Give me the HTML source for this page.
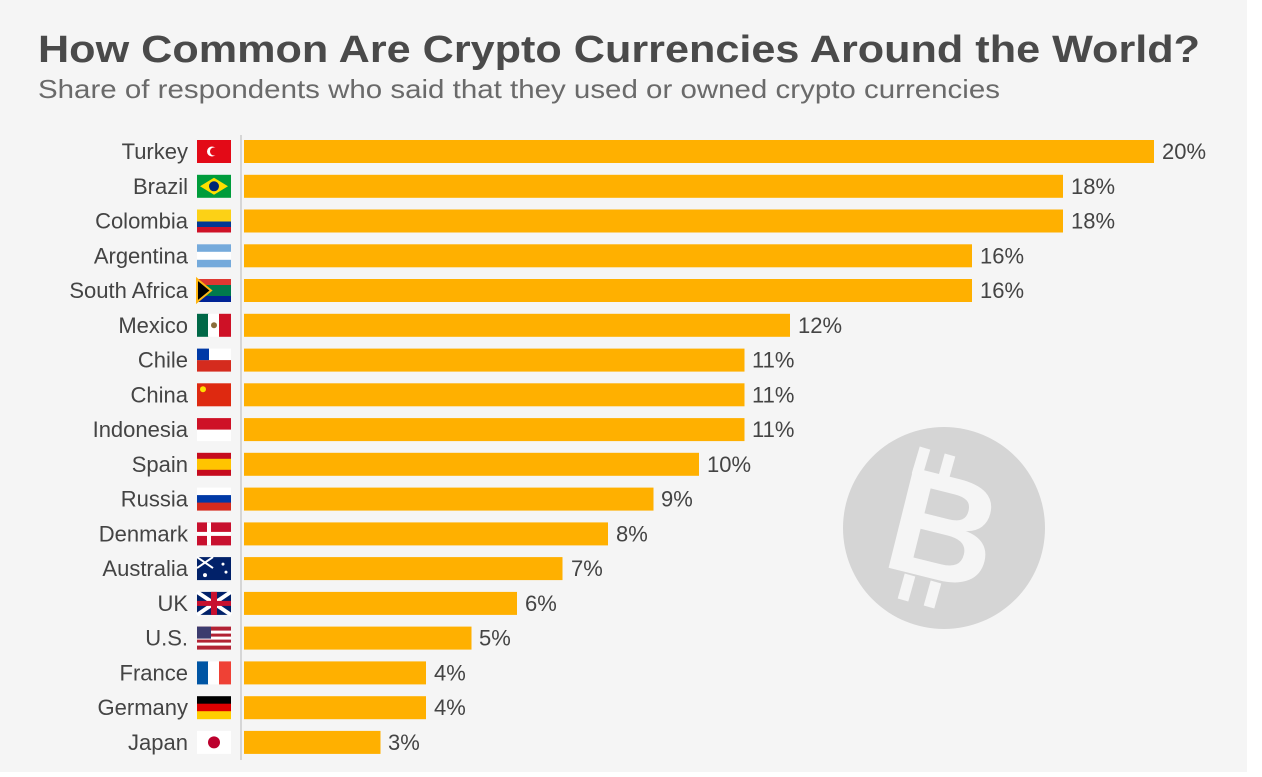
<!DOCTYPE html><html><head><style>body{margin:0;background:#fff}</style></head><body>
<svg width="1262" height="772" xmlns="http://www.w3.org/2000/svg" font-family="Liberation Sans, sans-serif">
<rect x="0" y="0" width="1247" height="772" fill="#f5f5f5"/>
<text x="38" y="62" font-size="38" font-weight="bold" fill="#4a4a4a" textLength="1162" lengthAdjust="spacingAndGlyphs">How Common Are Crypto Currencies Around the World?</text>
<text x="38" y="98" font-size="26" fill="#6a6a6a" textLength="962" lengthAdjust="spacingAndGlyphs">Share of respondents who said that they used or owned crypto currencies</text>
<line x1="241" y1="135" x2="241" y2="760" stroke="#ccc" stroke-width="1.5"/>
<circle cx="944" cy="528" r="101" fill="#d5d5d5"/>
<text x="944" y="580" font-size="150" font-weight="bold" fill="#f5f5f5" text-anchor="middle" transform="rotate(14 944 528)">B</text>
<g stroke="#f5f5f5" stroke-width="11"><line x1="925" y1="448" x2="917" y2="475"/><line x1="950" y1="455" x2="943" y2="480"/><line x1="910" y1="575" x2="903" y2="600"/><line x1="936" y1="582" x2="929" y2="607"/></g>
<g font-size="22" fill="#444">
<g transform="translate(0,140)"><text x="188" y="19" text-anchor="end">Turkey</text><rect x="197" y="0" width="34" height="23" fill="#e30a17"/><circle cx="212" cy="11.5" r="5" fill="#fff"/><circle cx="214" cy="11.5" r="4" fill="#e30a17"/><rect x="244" y="0" width="910" height="23" fill="#ffb000"/><text x="1162" y="19">20%</text></g>
<g transform="translate(0,174.8)"><text x="188" y="19" text-anchor="end">Brazil</text><rect x="197" y="0" width="34" height="23" fill="#009c3b"/><polygon points="200,11.5 214,3 228,11.5 214,20" fill="#ffdf00"/><circle cx="214" cy="11.5" r="5" fill="#002776"/><rect x="244" y="0" width="819" height="23" fill="#ffb000"/><text x="1071" y="19">18%</text></g>
<g transform="translate(0,209.5)"><text x="188" y="19" text-anchor="end">Colombia</text><rect x="197" y="0" width="34" height="12" fill="#fcd116"/><rect x="197" y="12" width="34" height="6" fill="#003893"/><rect x="197" y="17.5" width="34" height="5.5" fill="#ce1126"/><rect x="244" y="0" width="819" height="23" fill="#ffb000"/><text x="1071" y="19">18%</text></g>
<g transform="translate(0,244.3)"><text x="188" y="19" text-anchor="end">Argentina</text><rect x="197" y="0" width="34" height="23" fill="#75aadb"/><rect x="197" y="7.5" width="34" height="8" fill="#fff"/><rect x="244" y="0" width="728" height="23" fill="#ffb000"/><text x="980" y="19">16%</text></g>
<g transform="translate(0,279)"><text x="188" y="19" text-anchor="end">South Africa</text><rect x="197" y="0" width="34" height="23" fill="#007a4d"/><rect x="197" y="0" width="34" height="6" fill="#de3831"/><rect x="197" y="17" width="34" height="6" fill="#002395"/><polygon points="197,0 211,11.5 197,23" fill="#000" stroke="#ffb612" stroke-width="2"/><rect x="244" y="0" width="728" height="23" fill="#ffb000"/><text x="980" y="19">16%</text></g>
<g transform="translate(0,313.8)"><text x="188" y="19" text-anchor="end">Mexico</text><rect x="197" y="0" width="12" height="23" fill="#006847"/><rect x="208" y="0" width="12" height="23" fill="#fff"/><rect x="219" y="0" width="12" height="23" fill="#ce1126"/><circle cx="214" cy="11.5" r="3" fill="#8a6d3b"/><rect x="244" y="0" width="546" height="23" fill="#ffb000"/><text x="798" y="19">12%</text></g>
<g transform="translate(0,348.6)"><text x="188" y="19" text-anchor="end">Chile</text><rect x="197" y="0" width="34" height="12" fill="#fff"/><rect x="197" y="11.5" width="34" height="11.5" fill="#d52b1e"/><rect x="197" y="0" width="12" height="11.5" fill="#0039a6"/><rect x="244" y="0" width="500.5" height="23" fill="#ffb000"/><text x="752" y="19">11%</text></g>
<g transform="translate(0,383.3)"><text x="188" y="19" text-anchor="end">China</text><rect x="197" y="0" width="34" height="23" fill="#de2910"/><circle cx="203" cy="6" r="3" fill="#ffde00"/><rect x="244" y="0" width="500.5" height="23" fill="#ffb000"/><text x="752" y="19">11%</text></g>
<g transform="translate(0,418.1)"><text x="188" y="19" text-anchor="end">Indonesia</text><rect x="197" y="0" width="34" height="12" fill="#ce1126"/><rect x="197" y="11.5" width="34" height="11.5" fill="#fff"/><rect x="244" y="0" width="500.5" height="23" fill="#ffb000"/><text x="752" y="19">11%</text></g>
<g transform="translate(0,452.8)"><text x="188" y="19" text-anchor="end">Spain</text><rect x="197" y="0" width="34" height="23" fill="#c60b1e"/><rect x="197" y="6" width="34" height="11" fill="#ffc400"/><rect x="244" y="0" width="455" height="23" fill="#ffb000"/><text x="707" y="19">10%</text></g>
<g transform="translate(0,487.6)"><text x="188" y="19" text-anchor="end">Russia</text><rect x="197" y="0" width="34" height="8" fill="#fff"/><rect x="197" y="7.5" width="34" height="8" fill="#0039a6"/><rect x="197" y="15" width="34" height="8" fill="#d52b1e"/><rect x="244" y="0" width="409.5" height="23" fill="#ffb000"/><text x="661" y="19">9%</text></g>
<g transform="translate(0,522.4)"><text x="188" y="19" text-anchor="end">Denmark</text><rect x="197" y="0" width="34" height="23" fill="#c8102e"/><rect x="207" y="0" width="4" height="23" fill="#fff"/><rect x="197" y="9.5" width="34" height="4" fill="#fff"/><rect x="244" y="0" width="364" height="23" fill="#ffb000"/><text x="616" y="19">8%</text></g>
<g transform="translate(0,557.1)"><text x="188" y="19" text-anchor="end">Australia</text><rect x="197" y="0" width="34" height="23" fill="#012169"/><line x1="197" y1="0" x2="213" y2="11" stroke="#fff" stroke-width="2"/><line x1="213" y1="0" x2="197" y2="11" stroke="#fff" stroke-width="2"/><circle cx="223" cy="7" r="1.5" fill="#fff"/><circle cx="226" cy="15" r="1.5" fill="#fff"/><circle cx="205" cy="18" r="2" fill="#fff"/><rect x="244" y="0" width="318.5" height="23" fill="#ffb000"/><text x="571" y="19">7%</text></g>
<g transform="translate(0,591.9)"><text x="188" y="19" text-anchor="end">UK</text><rect x="197" y="0" width="34" height="23" fill="#012169"/><line x1="197" y1="0" x2="231" y2="23" stroke="#fff" stroke-width="4"/><line x1="231" y1="0" x2="197" y2="23" stroke="#fff" stroke-width="4"/><rect x="211" y="0" width="6" height="23" fill="#c8102e"/><rect x="197" y="9" width="34" height="5" fill="#c8102e"/><rect x="244" y="0" width="273" height="23" fill="#ffb000"/><text x="525" y="19">6%</text></g>
<g transform="translate(0,626.6)"><text x="188" y="19" text-anchor="end">U.S.</text><rect x="197" y="0" width="34" height="23" fill="#b22234"/><rect x="197" y="4" width="34" height="3" fill="#fff"/><rect x="197" y="10" width="34" height="3" fill="#fff"/><rect x="197" y="16" width="34" height="3" fill="#fff"/><rect x="197" y="0" width="14" height="12" fill="#3c3b6e"/><rect x="244" y="0" width="227.5" height="23" fill="#ffb000"/><text x="479" y="19">5%</text></g>
<g transform="translate(0,661.4)"><text x="188" y="19" text-anchor="end">France</text><rect x="197" y="0" width="12" height="23" fill="#0055a4"/><rect x="208" y="0" width="12" height="23" fill="#fff"/><rect x="219" y="0" width="12" height="23" fill="#ef4135"/><rect x="244" y="0" width="182" height="23" fill="#ffb000"/><text x="434" y="19">4%</text></g>
<g transform="translate(0,696.2)"><text x="188" y="19" text-anchor="end">Germany</text><rect x="197" y="0" width="34" height="8" fill="#000"/><rect x="197" y="7.5" width="34" height="8" fill="#dd0000"/><rect x="197" y="15" width="34" height="8" fill="#ffce00"/><rect x="244" y="0" width="182" height="23" fill="#ffb000"/><text x="434" y="19">4%</text></g>
<g transform="translate(0,730.9)"><text x="188" y="19" text-anchor="end">Japan</text><rect x="197" y="0" width="34" height="23" fill="#fff"/><circle cx="214" cy="11.5" r="6" fill="#bc002d"/><rect x="244" y="0" width="136.5" height="23" fill="#ffb000"/><text x="388" y="19">3%</text></g>
</g>
</svg></body></html>
